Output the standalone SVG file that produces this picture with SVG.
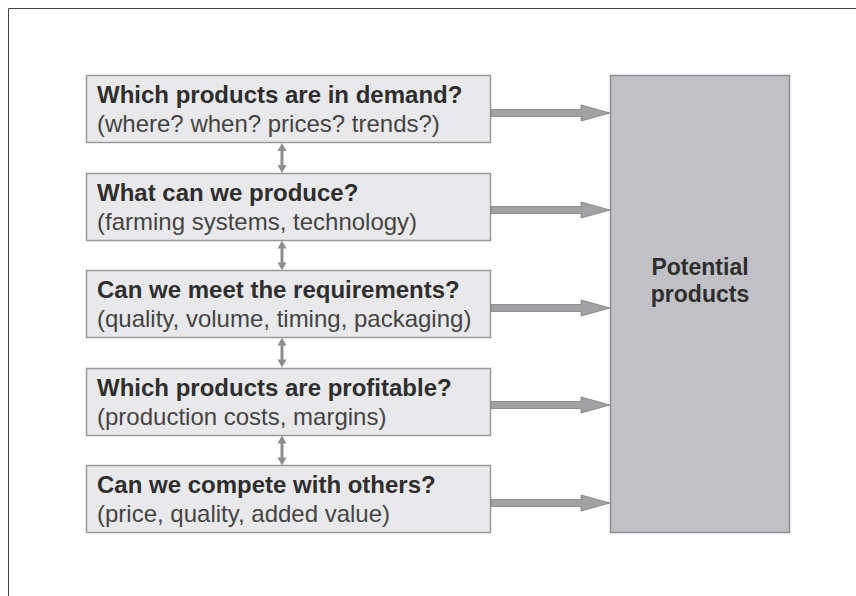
<svg xmlns="http://www.w3.org/2000/svg" width="856" height="596" viewBox="0 0 856 596">
<style>
.box{fill:#e9e9eb;stroke:#999a9c;stroke-width:1.5}
.big{fill:#c1c1c5;stroke:#8e8e92;stroke-width:1.5}
.t{font-family:"Liberation Sans",Arial,sans-serif;font-size:24px;font-weight:bold;fill:#2e2e2e}
.s{font-family:"Liberation Sans",Arial,sans-serif;font-size:24px;fill:#444}
.p{font-family:"Liberation Sans",Arial,sans-serif;font-size:23px;font-weight:bold;fill:#2e2e2e;text-anchor:middle}
.arr{fill:#a2a2a4;stroke:#7e7e80;stroke-width:0.8}
.dbl{fill:#8e8e90;stroke:none}
</style>
<defs>
<path id="harrow" d="M0,-3.5 L90,-3.5 L90,-8 L119,0 L90,8 L90,3.5 L0,3.5 Z"/>
<path id="varrow" d="M0,0 L4.5,8 L1.5,8 L1.5,22 L4.5,22 L0,30 L-4.5,22 L-1.5,22 L-1.5,8 L-4.5,8 Z"/>
</defs>
<rect x="0" y="0" width="856" height="596" fill="#fff"/>
<path d="M8.5,596 L8.5,8.5 L856,8.5" fill="none" stroke="#444" stroke-width="1"/>

<g id="n1">
<rect class="box" x="86.5" y="75.5" width="404" height="67"/>
<text class="t" x="97" y="103">Which products are in demand?</text>
<text class="s" x="97" y="132">(where? when? prices? trends?)</text>
</g>
<g id="n2">
<rect class="box" x="86.5" y="173.5" width="404" height="67"/>
<text class="t" x="97" y="201">What can we produce?</text>
<text class="s" x="97" y="230">(farming systems, technology)</text>
</g>
<g id="n3">
<rect class="box" x="86.5" y="270.5" width="404" height="67"/>
<text class="t" x="97" y="298">Can we meet the requirements?</text>
<text class="s" x="97" y="327">(quality, volume, timing, packaging)</text>
</g>
<g id="n4">
<rect class="box" x="86.5" y="368.5" width="404" height="67"/>
<text class="t" x="97" y="396">Which products are profitable?</text>
<text class="s" x="97" y="425">(production costs, margins)</text>
</g>
<g id="n5">
<rect class="box" x="86.5" y="465.5" width="404" height="67"/>
<text class="t" x="97" y="493">Can we compete with others?</text>
<text class="s" x="97" y="522">(price, quality, added value)</text>
</g>
<g id="potential">
<rect class="big" x="610.5" y="75.5" width="179" height="457"/>
<text class="p" x="700" y="275">Potential</text>
<text class="p" x="700" y="302">products</text>
</g>

<g id="connectors">
<use href="#harrow" class="arr" transform="translate(491,113)"/>
<use href="#harrow" class="arr" transform="translate(491,210)"/>
<use href="#harrow" class="arr" transform="translate(491,308)"/>
<use href="#harrow" class="arr" transform="translate(491,405)"/>
<use href="#harrow" class="arr" transform="translate(491,503)"/>
<use href="#varrow" class="dbl" transform="translate(282,143)"/>
<use href="#varrow" class="dbl" transform="translate(282,240.5)"/>
<use href="#varrow" class="dbl" transform="translate(282,337.5)"/>
<use href="#varrow" class="dbl" transform="translate(282,435.5)"/>
</g>
</svg>
